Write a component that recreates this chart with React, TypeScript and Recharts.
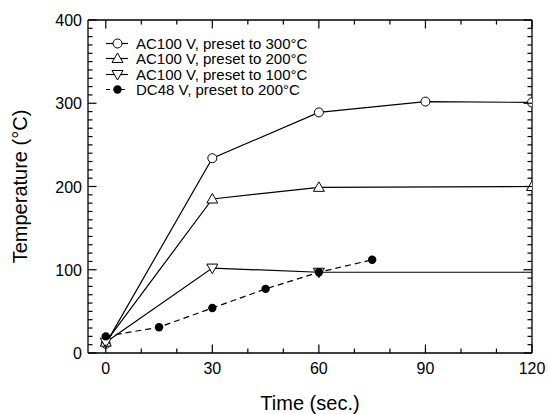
import React from 'react';
import { LineChart, Line, XAxis, YAxis, Legend, Label } from 'recharts';

// ---- data ----
const timeTicks = [0, 10, 20, 30, 40, 50, 60, 70, 80, 90, 100, 110, 120];
const timeLabels = [0, 30, 60, 90, 120];
const tempTicks = [
  0, 10, 20, 30, 40, 50, 60, 70, 80, 90, 100, 110, 120, 130, 140, 150, 160, 170, 180, 190, 200,
  210, 220, 230, 240, 250, 260, 270, 280, 290, 300, 310, 320, 330, 340, 350, 360, 370, 380, 390, 400,
];
const tempLabels = [0, 100, 200, 300, 400];

const time300 = [0, 30, 60, 90, 120];
const temp300 = [11, 234, 289, 302, 301];

const time200 = [0, 30, 60, 120];
const temp200 = [13, 185, 199, 200];

const time100 = [0, 30, 60, 120];
const temp100 = [13, 102, 97, 97];

const timeDC = [0, 15, 30, 45, 60, 75];
const tempDC = [20, 31, 54, 77, 97, 112];

const seriesNames = [
  'AC100 V, preset to 300°C',
  'AC100 V, preset to 200°C',
  'AC100 V, preset to 100°C',
  'DC48 V, preset to 200°C',
];

const rows = (ts: number[], vs: number[]) => ts.map((t, i) => ({ t, v: vs[i] }));

const FONT = '"Liberation Sans", Arial, Helvetica, sans-serif';
const INK = '#000';

// ---- markers ----
const OpenCircle = ({ cx, cy }: any) => (
  <circle cx={cx} cy={cy} r={4.5} fill="#fff" stroke={INK} strokeWidth={1} />
);
const TriUp = ({ cx, cy }: any) => (
  <polygon
    points={`${cx},${cy - 5.5} ${cx - 5.5},${cy + 4} ${cx + 5.5},${cy + 4}`}
    fill="#fff"
    stroke={INK}
    strokeWidth={1}
  />
);
const TriDown = ({ cx, cy }: any) => (
  <polygon
    points={`${cx},${cy + 5.5} ${cx - 5.5},${cy - 4} ${cx + 5.5},${cy - 4}`}
    fill="#fff"
    stroke={INK}
    strokeWidth={1}
  />
);
const FilledCircle = ({ cx, cy }: any) => <circle cx={cx} cy={cy} r={4.2} fill={INK} />;

const dotFor = (Shape: any, skipLast: boolean) => (props: any) => {
  const { cx, cy, index } = props;
  const k = `d-${index}`;
  if (cx == null || cy == null) return <g key={k} />;
  if (skipLast && props.payload && props.payload.t === 120) return <g key={k} />;
  return (
    <g key={k}>
      <Shape cx={cx} cy={cy} />
    </g>
  );
};

// ---- ticks (drawn inward) ----
const BottomTick = (props: any) => {
  const { x, y, payload } = props;
  const major = timeLabels.includes(payload.value);
  return (
    <g>
      <line x1={x} y1={y} x2={x} y2={y - (major ? 8.5 : 4.5)} stroke={INK} strokeWidth={1.2} />
      {major && (
        <text x={x} y={y + 21} textAnchor="middle" fontSize={16} fill={INK} fontFamily={FONT}>
          {payload.value}
        </text>
      )}
    </g>
  );
};
const TopTick = (props: any) => {
  const { x, y, payload } = props;
  const major = timeLabels.includes(payload.value);
  return <line x1={x} y1={y} x2={x} y2={y + (major ? 8.5 : 4.5)} stroke={INK} strokeWidth={1.2} />;
};
const LeftTick = (props: any) => {
  const { x, y, payload } = props;
  const major = tempLabels.includes(payload.value);
  return (
    <g>
      <line x1={x} y1={y} x2={x + (major ? 8.5 : 4.5)} y2={y} stroke={INK} strokeWidth={1.2} />
      {major && (
        <text x={x - 6} y={y + 6} textAnchor="end" fontSize={16} fill={INK} fontFamily={FONT}>
          {payload.value}
        </text>
      )}
    </g>
  );
};
const RightTick = (props: any) => {
  const { x, y, payload } = props;
  const major = tempLabels.includes(payload.value);
  return <line x1={x} y1={y} x2={x - (major ? 8.5 : 4.5)} y2={y} stroke={INK} strokeWidth={1.2} />;
};

// ---- legend ----
const legendShapes = [OpenCircle, TriUp, TriDown, FilledCircle];
const LegendContent = () => (
  <div style={{ fontFamily: FONT, fontSize: 15, color: INK, lineHeight: '15.3px' }}>
    {seriesNames.map((name, i) => {
      const Shape = legendShapes[i];
      const dashed = i === 3;
      return (
        <div key={name} style={{ display: 'flex', alignItems: 'center', height: 15.3, whiteSpace: 'nowrap' }}>
          <svg width={24} height={15} style={{ overflow: 'visible', display: 'block' }}>
            <line
              x1={0}
              y1={7.5}
              x2={22}
              y2={7.5}
              stroke={INK}
              strokeWidth={1.2}
              strokeDasharray={dashed ? '4 3.5' : undefined}
            />
            <Shape cx={11.5} cy={7.5} />
          </svg>
          <span style={{ marginLeft: 6 }}>{name}</span>
        </div>
      );
    })}
  </div>
);

export default function App() {
  return (
    <div style={{ position: 'absolute', left: 0, top: 0, width: 548, height: 414, background: '#fff' }}>
      <LineChart
        width={548}
        height={414}
        margin={{ top: 19, right: 15, bottom: 0, left: 0 }}
        style={{ fontFamily: FONT }}
      >
        <XAxis
          xAxisId="x"
          dataKey="t"
          type="number"
          domain={[-5, 120]}
          allowDataOverflow
          ticks={timeTicks}
          interval={0}
          height={61}
          tickSize={0}
          tickMargin={0}
          tickLine={false}
          axisLine={{ stroke: INK, strokeWidth: 1.3 }}
          tick={<BottomTick />}
        >
          <Label
            content={({ viewBox }: any) => (
              <text
                x={viewBox.x + viewBox.width / 2}
                y={viewBox.y + 57}
                textAnchor="middle"
                fontSize={20}
                fill={INK}
                fontFamily={FONT}
              >
                Time (sec.)
              </text>
            )}
          />
        </XAxis>
        <XAxis
          xAxisId="top"
          orientation="top"
          dataKey="t"
          type="number"
          domain={[-5, 120]}
          allowDataOverflow
          ticks={timeTicks}
          interval={0}
          height={1}
          tickSize={0}
          tickMargin={0}
          tickLine={false}
          axisLine={{ stroke: INK, strokeWidth: 1.3 }}
          tick={<TopTick />}
        />
        <YAxis
          yAxisId="y"
          type="number"
          domain={[0, 400]}
          allowDataOverflow
          ticks={tempTicks}
          interval={0}
          width={88}
          tickSize={0}
          tickMargin={0}
          tickLine={false}
          axisLine={{ stroke: INK, strokeWidth: 1.3 }}
          tick={<LeftTick />}
        >
          <Label
            content={({ viewBox }: any) => {
              const cx = viewBox.x + 27;
              const cy = viewBox.y + viewBox.height / 2;
              return (
                <text
                  x={cx}
                  y={cy}
                  transform={`rotate(-90 ${cx} ${cy})`}
                  textAnchor="middle"
                  fontSize={20}
                  fill={INK}
                  fontFamily={FONT}
                >
                  Temperature (°C)
                </text>
              );
            }}
          />
        </YAxis>
        <YAxis
          yAxisId="right"
          orientation="right"
          type="number"
          domain={[0, 400]}
          allowDataOverflow
          ticks={tempTicks}
          interval={0}
          width={1}
          tickSize={0}
          tickMargin={0}
          tickLine={false}
          axisLine={{ stroke: INK, strokeWidth: 1.3 }}
          tick={<RightTick />}
        />
        <Legend
          layout="vertical"
          align="center"
          verticalAlign="middle"
          content={<LegendContent />}
          wrapperStyle={{ left: 106, top: 36, width: 'auto', height: 'auto' }}
        />
        {/* invisible series binding the mirrored top/right frame axes */}
        <Line
          xAxisId="top"
          yAxisId="right"
          data={rows(time300, temp300)}
          dataKey="v"
          stroke="none"
          dot={false}
          activeDot={false}
          legendType="none"
          isAnimationActive={false}
        />
        <Line
          xAxisId="x"
          yAxisId="y"
          data={rows(time300, temp300)}
          dataKey="v"
          name={seriesNames[0]}
          stroke={INK}
          strokeWidth={1.2}
          dot={dotFor(OpenCircle, false)}
          activeDot={false}
          isAnimationActive={false}
        />
        <Line
          xAxisId="x"
          yAxisId="y"
          data={rows(time200, temp200)}
          dataKey="v"
          name={seriesNames[1]}
          stroke={INK}
          strokeWidth={1.2}
          dot={dotFor(TriUp, false)}
          activeDot={false}
          isAnimationActive={false}
        />
        <Line
          xAxisId="x"
          yAxisId="y"
          data={rows(time100, temp100)}
          dataKey="v"
          name={seriesNames[2]}
          stroke={INK}
          strokeWidth={1.2}
          dot={dotFor(TriDown, true)}
          activeDot={false}
          isAnimationActive={false}
        />
        <Line
          xAxisId="x"
          yAxisId="y"
          data={rows(timeDC, tempDC)}
          dataKey="v"
          name={seriesNames[3]}
          stroke={INK}
          strokeWidth={1.2}
          strokeDasharray="6 4"
          dot={dotFor(FilledCircle, false)}
          activeDot={false}
          isAnimationActive={false}
        />
      </LineChart>
    </div>
  );
}
